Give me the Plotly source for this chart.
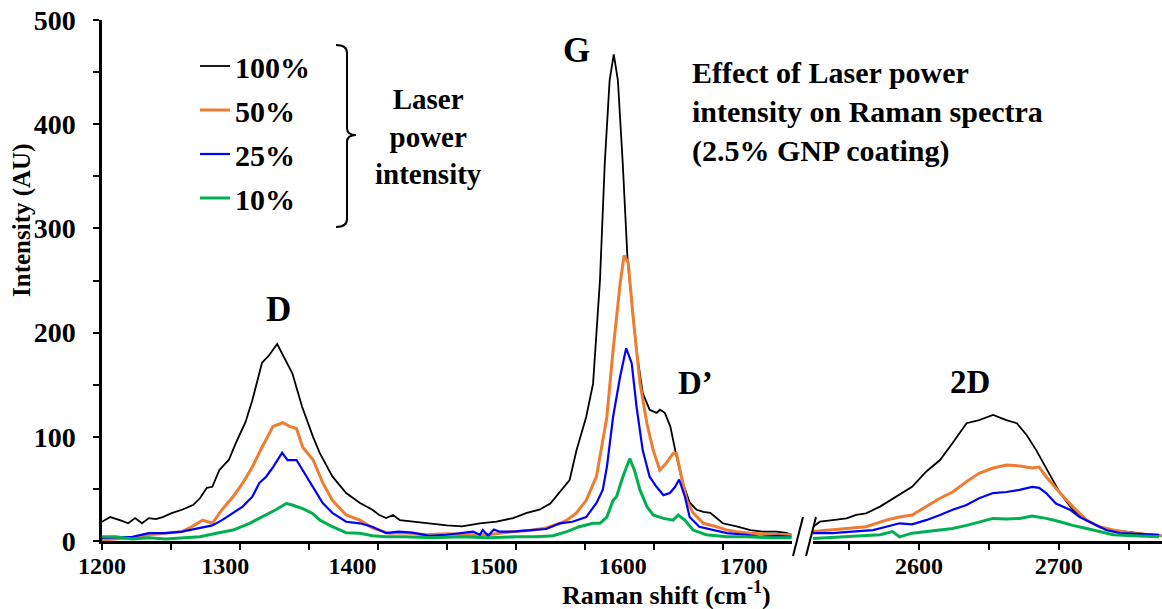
import plotly.graph_objects as go

# ---------------- data (Raman shift in cm-1, intensity in AU) ----------------
series_names = ["100%", "50%", "25%", "10%"]

black_left_x = [1200, 1206, 1214, 1219, 1224, 1229, 1234, 1239, 1244, 1251, 1258, 1266, 1271, 1276, 1280, 1285,
                1292, 1297, 1304, 1309, 1316, 1321, 1327, 1333, 1338, 1345, 1353, 1358, 1367, 1377, 1387, 1396,
                1401, 1406, 1411, 1416, 1425, 1437, 1450, 1461, 1474, 1486, 1498, 1508, 1517, 1525, 1529, 1534,
                1539, 1544, 1551, 1556, 1561, 1564.5, 1568, 1571, 1574, 1577.5, 1581, 1587.5, 1592, 1597, 1602,
                1604.5, 1608, 1612, 1616.5, 1621, 1626, 1631, 1636, 1641, 1650, 1660, 1670, 1679, 1689, 1696, 1700]
black_left_y = [18.5, 23, 19.5, 17, 22, 17, 22, 21, 23, 27, 30, 34.5, 41, 51, 52, 68,
                78, 94, 114, 135, 171, 178, 189, 174, 161, 129, 100, 84, 62, 46, 36.5, 30,
                25, 22, 25, 20, 18.5, 17, 15, 14, 17, 18.5, 22, 27, 30, 36, 42.5, 51,
                58.5, 87, 119, 151, 250, 363, 442, 467, 442, 363, 270, 183, 142, 126, 123,
                126, 123, 110, 81, 56, 37, 30, 28, 27, 17, 14, 10.5, 9, 9, 7.7, 6]

orange_left_x = [1200, 1210, 1222, 1234, 1246, 1258, 1265, 1273, 1280, 1287, 1295, 1302, 1309, 1316, 1324, 1331,
                 1336, 1341, 1345.5, 1353, 1360, 1367, 1377, 1387, 1396, 1408, 1420, 1435, 1450, 1465, 1480, 1498,
                 1510, 1522, 1532, 1537, 1544, 1551, 1558.5, 1566, 1570.5, 1575.6, 1578.5, 1581.5, 1585, 1590,
                 1595, 1599.6, 1604.4, 1609, 1614, 1616.5, 1620, 1624, 1628.5, 1636, 1645.6, 1653, 1660, 1670,
                 1682, 1700]
orange_left_y = [1, 2, 3, 6, 7.5, 9, 13.7, 20, 17, 30, 42.5, 55.6, 71, 90, 110, 113.5,
                 110, 108, 90, 78, 56, 39, 25, 20, 12.5, 7.5, 8, 6, 7, 6, 6, 9,
                 10, 12.5, 17, 20, 27, 39, 62, 119, 183, 247, 274, 267, 215, 151.5,
                 113, 87, 68, 74.6, 84, 84, 62, 39, 27, 17, 13.7, 10.5, 9, 7.5,
                 6.5, 6]

blue_left_x = [1200, 1210, 1222, 1234, 1246, 1258, 1271, 1280, 1287, 1295, 1302, 1309, 1314, 1319, 1324, 1330.6,
               1334.5, 1341, 1345.5, 1352.6, 1360, 1367, 1377, 1387, 1396, 1406, 1415, 1425, 1437.6, 1450, 1459,
               1469, 1474, 1476, 1480, 1484, 1488, 1498, 1510.6, 1522, 1532, 1541, 1551, 1558.5, 1563, 1566,
               1570.5, 1575.6, 1580, 1584, 1587.5, 1592, 1597, 1602, 1607, 1611.7, 1615.5, 1618.4, 1622.6, 1626,
               1633, 1643, 1653, 1667, 1677, 1690, 1700]
blue_left_y = [3, 3.5, 4, 7.5, 7.5, 9, 12.5, 15, 20, 27, 33, 42.5, 55.6, 61.7, 71, 84.7,
               77.7, 77.7, 68, 52, 36.5, 27, 18.5, 17, 13.7, 7.5, 9, 8, 5, 6, 7.5,
               9, 6, 10.5, 5, 11, 9, 9, 10.5, 11.5, 17, 18.5, 23, 36.5, 49, 71,
               119, 157.6, 185, 170.6, 129, 87, 61.7, 52, 44, 46, 52, 59, 42.5, 23,
               13.7, 10.5, 7.5, 6, 4, 5, 4]

green_left_x = [1200, 1210, 1222, 1234, 1246, 1258, 1271, 1283, 1295, 1307, 1316, 1326, 1333.5, 1338, 1345.5,
                1352.6, 1358, 1367, 1377, 1387, 1396, 1406, 1420, 1440, 1460, 1480, 1500, 1515, 1527, 1537, 1546,
                1556, 1561, 1566, 1570.5, 1573, 1577.6, 1582.6, 1586, 1590, 1595, 1599.6, 1607, 1614, 1617.7,
                1622.5, 1628.5, 1638, 1653, 1667, 1685, 1700]
green_left_y = [4, 4, 2, 3, 2, 3, 4, 7.5, 10.5, 17, 23, 30, 36, 34.5, 31,
                26.5, 20, 13.7, 8, 7.5, 5, 4, 4, 3, 4, 3, 4, 4, 5, 9, 13.7,
                17, 17, 23, 39, 42.5, 61.7, 79, 68, 49, 33, 25, 21.7, 20, 25,
                20, 10.5, 6, 4, 4, 3, 3]

black_right_x = [2524, 2529, 2538, 2548, 2555, 2562, 2572, 2584, 2595, 2605, 2615, 2624, 2634, 2643, 2653,
                 2662.5, 2670, 2677, 2684, 2691, 2701, 2710, 2720, 2729, 2739, 2748.5, 2758, 2767, 2774]
black_right_y = [13.7, 18.5, 20, 21.7, 25, 26.5, 33, 42.5, 52, 66.5, 77.7, 94, 113, 116, 121,
                 116, 113, 101.7, 87, 70, 46, 30, 20, 13.7, 10.5, 9, 7.7, 5.8, 5]

orange_right_x = [2524, 2536, 2548, 2562, 2576.5, 2586, 2595, 2605, 2615, 2624, 2634, 2643, 2653, 2662.5, 2672,
                  2681, 2686, 2691, 2701, 2710, 2720, 2729, 2739, 2753, 2767, 2774]
orange_right_y = [9, 10.5, 12.5, 13.7, 20, 23, 25, 33, 41, 47, 57, 65, 70, 73, 72,
                  70, 71, 61.7, 46, 33, 20, 13.7, 10.5, 7.5, 5.8, 5]

blue_right_x = [2524, 2538, 2552, 2567, 2576.5, 2586, 2595, 2605, 2615, 2624, 2634, 2643, 2653, 2662.5, 2672,
                2681, 2686, 2691, 2698, 2708, 2715, 2724, 2734, 2744, 2758, 2772]
blue_right_y = [7.5, 7.5, 9, 10.5, 13.7, 17, 16, 20, 25, 30, 34.5, 41, 46, 47, 49,
                52, 51, 46, 36, 30, 23, 17, 10.5, 7.5, 6.5, 6]

green_right_x = [2524, 2548, 2572, 2581, 2586, 2595, 2605, 2615, 2624, 2634, 2643, 2653, 2662.5, 2672, 2681,
                 2691, 2701, 2710, 2720, 2729, 2739, 2753, 2772]
green_right_y = [2.5, 4, 6, 9, 4, 7.5, 9, 10.5, 12, 15, 18.5, 21.7, 21, 21.7, 24,
                 21.7, 18.5, 15, 12, 9, 6, 5, 4]

left_tick_labels = ["1200", "1300", "1400", "1500", "1600", "1700"]
right_tick_labels = ["2600", "2700"]
y_tick_labels = ["0", "100", "200", "300", "400", "500"]

# ---------------- styling / layout helpers ----------------
FONT = "Liberation Serif, Times New Roman, serif"
W, H = 1162, 609
L, R, T, B = 102, 0, 20, 68
PW, PH = W - L - R, H - T - B


def px(x):
    return (x - L) / PW


def py(y):
    return (H - B - y) / PH


colors = ["#000000", "#ED7D31", "#0000FF", "#00B050"]
widths = [1.8, 3, 2.2, 3]

left_x = [black_left_x, orange_left_x, blue_left_x, green_left_x]
left_y = [black_left_y, orange_left_y, blue_left_y, green_left_y]
right_x = [black_right_x, orange_right_x, blue_right_x, green_right_x]
right_y = [black_right_y, orange_right_y, blue_right_y, green_right_y]

fig = go.Figure()
for i, name in enumerate(series_names):
    fig.add_trace(go.Scatter(x=left_x[i], y=left_y[i], mode="lines", name=name,
                             line=dict(color=colors[i], width=widths[i]),
                             legendgroup=name, xaxis="x", yaxis="y"))
for i, name in enumerate(series_names):
    fig.add_trace(go.Scatter(x=right_x[i], y=right_y[i], mode="lines", name=name,
                             line=dict(color=colors[i], width=widths[i]),
                             legendgroup=name, showlegend=False, xaxis="x2", yaxis="y"))

tickfont_x = dict(family=FONT, size=24, color="black", weight="bold")
tickfont_y = dict(family=FONT, size=28, color="black", weight="bold")
tickmark = dict(ticks="outside", ticklen=6, tickwidth=2, tickcolor="black")

# label positions on the left axis (the original's labels sit slightly off the tick marks)
left_label_pos = [1200, 1289.3, 1381.6, 1484, 1577.5, 1665.3]

fig.update_layout(
    width=W, height=H,
    margin=dict(l=L, r=R, t=T, b=B, pad=0),
    paper_bgcolor="white", plot_bgcolor="white",
    showlegend=True,
    legend=dict(x=px(195), y=py(40), xanchor="left", yanchor="top",
                font=dict(family=FONT, size=30, color="black", weight="bold"),
                bgcolor="rgba(0,0,0,0)", tracegroupgap=2, itemwidth=30),
    xaxis=dict(domain=[0, px(791.7)], range=[1200, 1700], showline=True, linecolor="black", linewidth=2.5,
               ticks="outside", ticklen=6, tickwidth=2, tickcolor="rgba(0,0,0,0)",
               tickvals=left_label_pos, ticktext=left_tick_labels,
               tickfont=tickfont_x, ticklabelstandoff=-5,
               minor=dict(tickvals=list(range(1200, 1700, 50)), **tickmark),
               showgrid=False, zeroline=False),
    xaxis2=dict(domain=[px(813), 1], range=[2524, 2774], anchor="y", showline=True, linecolor="black",
                linewidth=2.5, tickvals=[2600, 2700], ticktext=right_tick_labels, **tickmark,
                minor=dict(tickvals=[2550, 2650, 2750], **tickmark),
                tickfont=tickfont_x, ticklabelstandoff=-5, showgrid=False, zeroline=False),
    yaxis=dict(domain=[0, 1], range=[0, 500], showline=True, linecolor="black", linewidth=2.5,
               **tickmark, tickvals=list(range(0, 501, 100)), ticktext=y_tick_labels,
               minor=dict(tickvals=list(range(50, 500, 100)), **tickmark),
               tickfont=tickfont_y, ticklabelstandoff=12, showgrid=False, zeroline=False),
)

# axis titles
fig.add_annotation(xref="paper", yref="paper", x=px(666), y=py(593), text="<b>Raman shift (cm<sup>-1</sup>)</b>",
                   showarrow=False, font=dict(family=FONT, size=26, color="black"), xanchor="center", yanchor="middle")
fig.add_annotation(xref="paper", yref="paper", x=px(22), y=py(221), text="<b>Intensity (AU)</b>", textangle=-90,
                   showarrow=False, font=dict(family=FONT, size=25, color="black"), xanchor="center", yanchor="middle")

# peak labels
for txt, cx, cy, sz in [("D", 278, 309, 35), ("G", 576, 50, 35), ("D’", 695, 383, 33), ("2D", 970, 382, 33)]:
    fig.add_annotation(xref="paper", yref="paper", x=px(cx), y=py(cy), text=f"<b>{txt}</b>", showarrow=False,
                       font=dict(family=FONT, size=sz, color="black"), xanchor="center", yanchor="middle")

# text blocks
fig.add_annotation(xref="paper", yref="paper", x=px(428), y=py(136),
                   text="<b>Laser<br>power<br>intensity</b>", showarrow=False, align="center",
                   font=dict(family=FONT, size=29, color="black"), xanchor="center", yanchor="middle")
fig.add_annotation(xref="paper", yref="paper", x=px(690), y=py(112),
                   text="<b>Effect of Laser power<br>intensity on Raman spectra<br>(2.5% GNP coating)</b>",
                   showarrow=False, align="left",
                   font=dict(family=FONT, size=30, color="black"), xanchor="left", yanchor="middle")

# bracket next to legend
pts = "M{},{} Q{},{} {},{} L{},{} Q{},{} {},{} Q{},{} {},{} L{},{} Q{},{} {},{}"
brace = [(336, 45), (347, 45), (347, 53), (347, 128), (347, 135), (356, 135), (347, 135), (347, 142),
         (347, 219), (347, 227), (336, 227)]
flat = []
for (a, b) in brace:
    flat += [round(px(a), 5), round(py(b), 5)]
fig.add_shape(type="path", xref="paper", yref="paper", path=pts.format(*flat),
              line=dict(color="black", width=2))

# axis break marks
for (x0, y0, x1, y1) in [(803, 517, 793, 556), (816, 517, 806, 556)]:
    fig.add_shape(type="line", xref="paper", yref="paper", x0=px(x0), y0=py(y0), x1=px(x1), y1=py(y1),
                  line=dict(color="black", width=2))

fig.write_html("out.html")
